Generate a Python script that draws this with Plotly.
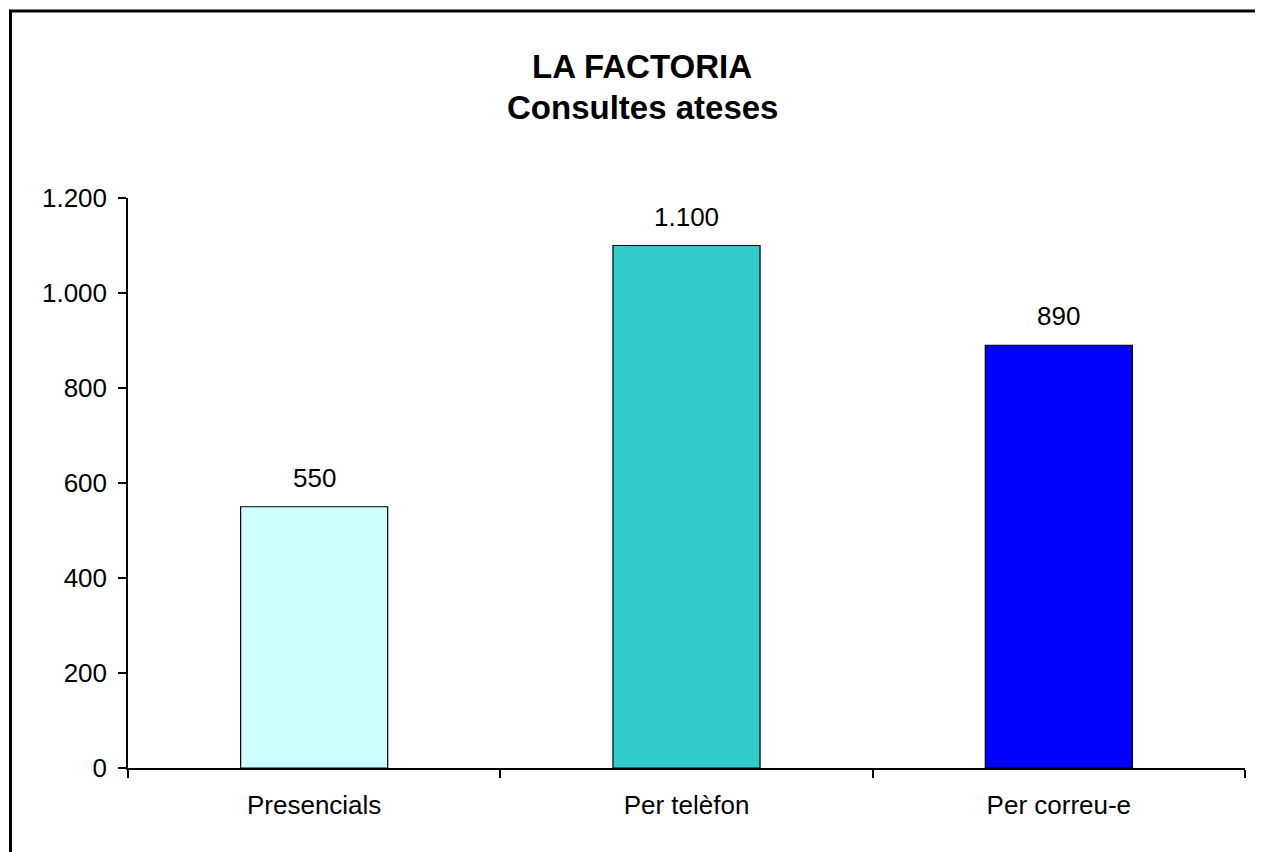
import plotly.graph_objects as go

categories = ["Presencials", "Per telèfon", "Per correu-e"]
values = [550, 1100, 890]
bar_colors = ["#CCFFFF", "#33CCCC", "#0000FF"]
title_lines = ["LA FACTORIA", "Consultes ateses"]

OFF = 8  # page body margin
W, H = 1263 - OFF, 852 - OFF
ML, MT = 128 - OFF, 198 - OFF
MR = W - (1245 - OFF)
MB = H - (768 - OFF)
PW, PH = W - ML - MR, H - MT - MB

FONT = "Liberation Sans, Arial, sans-serif"

fig = go.Figure()
fig.add_trace(go.Bar(
    x=categories, y=values,
    marker=dict(color=bar_colors, line=dict(color="black", width=1.2)),
    width=0.395,
    hoverinfo="skip",
))

for c, v in zip(categories, values):
    fig.add_annotation(
        x=c, y=v, xref="x", yref="y",
        text=f"{v:,}".replace(",", "."),
        showarrow=False, yanchor="bottom", yshift=12,
        font=dict(family=FONT, size=26, color="black"),
    )

def px_x(p):
    return (p - OFF - ML) / PW

def px_y(p):
    return (H - MB - (p - OFF)) / PH

fig.add_annotation(x=px_x(642), y=px_y(67), xref="paper", yref="paper",
                   text=f"<b>{title_lines[0]}</b>", showarrow=False,
                   xanchor="center", yanchor="middle",
                   font=dict(family=FONT, size=33, color="black"))
fig.add_annotation(x=px_x(642), y=px_y(108), xref="paper", yref="paper",
                   text=f"<b>{title_lines[1]}</b>", showarrow=False,
                   xanchor="center", yanchor="middle",
                   font=dict(family=FONT, size=33, color="black"))

fig.add_shape(type="rect", xref="paper", yref="paper",
              x0=px_x(10.5), x1=px_x(1300), y0=px_y(900), y1=px_y(11),
              line=dict(color="black", width=3), fillcolor="rgba(0,0,0,0)",
              layer="above")

fig.update_layout(
    width=W, height=H, autosize=False,
    margin=dict(l=ML, r=MR, t=MT, b=MB),
    paper_bgcolor="white", plot_bgcolor="white",
    separators=",.",
    showlegend=False,
    font=dict(family=FONT, size=26, color="black"),
)
fig.update_xaxes(
    type="category", showline=True, linecolor="black", linewidth=1.5,
    ticks="outside", tickson="boundaries", ticklen=8, tickcolor="black", tickwidth=1.5,
    showgrid=False, zeroline=False, ticklabelstandoff=13,
    tickfont=dict(family=FONT, size=26, color="black"),
)
fig.update_yaxes(
    range=[0, 1200], dtick=200, tick0=0, tickformat=",d",
    showline=True, linecolor="black", linewidth=1.5,
    ticks="outside", ticklen=8, tickcolor="black", tickwidth=1.5,
    showgrid=False, zeroline=False, ticklabelstandoff=6,
    tickfont=dict(family=FONT, size=26, color="black"),
)

fig.write_html("out.html")
